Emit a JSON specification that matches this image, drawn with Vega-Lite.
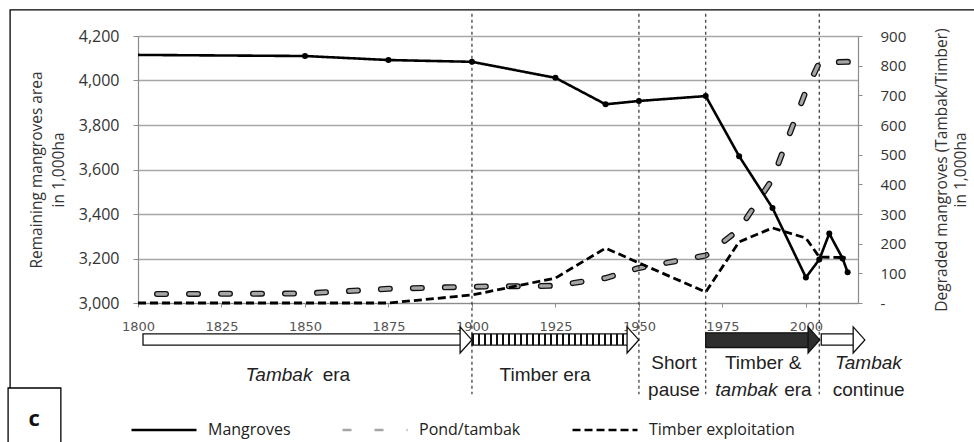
{
  "$schema": "https://vega.github.io/schema/vega-lite/v6.json",
  "width": 720,
  "height": 267,
  "autosize": {"type": "none"},
  "padding": {"left": 138, "top": 36, "right": 116, "bottom": 139},
  "background": "white",
  "config": {"view": {"stroke": null}, "font": "Open Sans"},
  "datasets": {
    "mangroves": [
      {"year": 1800, "area": 4115, "series": "Mangroves"},
      {"year": 1850, "area": 4110, "series": "Mangroves"},
      {"year": 1875, "area": 4092, "series": "Mangroves"},
      {"year": 1900, "area": 4084, "series": "Mangroves"},
      {"year": 1925, "area": 4012, "series": "Mangroves"},
      {"year": 1940, "area": 3893, "series": "Mangroves"},
      {"year": 1950, "area": 3908, "series": "Mangroves"},
      {"year": 1970, "area": 3930, "series": "Mangroves"},
      {"year": 1980, "area": 3660, "series": "Mangroves"},
      {"year": 1990, "area": 3427, "series": "Mangroves"},
      {"year": 2000, "area": 3115, "series": "Mangroves"},
      {"year": 2004, "area": 3195, "series": "Mangroves"},
      {"year": 2007, "area": 3312, "series": "Mangroves"},
      {"year": 2011, "area": 3200, "series": "Mangroves"},
      {"year": 2012.5, "area": 3138, "series": "Mangroves"}
    ],
    "degraded": [
      {"year": 1800, "value": 30, "series": "Pond/tambak"},
      {"year": 1850, "value": 32, "series": "Pond/tambak"},
      {"year": 1875, "value": 48, "series": "Pond/tambak"},
      {"year": 1900, "value": 55, "series": "Pond/tambak"},
      {"year": 1925, "value": 58, "series": "Pond/tambak"},
      {"year": 1940, "value": 84, "series": "Pond/tambak"},
      {"year": 1950, "value": 118, "series": "Pond/tambak"},
      {"year": 1970, "value": 160, "series": "Pond/tambak"},
      {"year": 1980, "value": 248, "series": "Pond/tambak"},
      {"year": 1990, "value": 418, "series": "Pond/tambak"},
      {"year": 2000, "value": 715, "series": "Pond/tambak"},
      {"year": 2004, "value": 810, "series": "Pond/tambak"},
      {"year": 2013, "value": 813, "series": "Pond/tambak"},
      {"year": 1800, "value": 0, "series": "Timber exploitation"},
      {"year": 1850, "value": 0, "series": "Timber exploitation"},
      {"year": 1875, "value": 0, "series": "Timber exploitation"},
      {"year": 1900, "value": 27, "series": "Timber exploitation"},
      {"year": 1925, "value": 84, "series": "Timber exploitation"},
      {"year": 1940, "value": 185, "series": "Timber exploitation"},
      {"year": 1950, "value": 135, "series": "Timber exploitation"},
      {"year": 1970, "value": 37, "series": "Timber exploitation"},
      {"year": 1980, "value": 206, "series": "Timber exploitation"},
      {"year": 1990, "value": 253, "series": "Timber exploitation"},
      {"year": 2000, "value": 219, "series": "Timber exploitation"},
      {"year": 2004, "value": 155, "series": "Timber exploitation"},
      {"year": 2012, "value": 153, "series": "Timber exploitation"}
    ],
    "periods": [{"year": 1900}, {"year": 1950}, {"year": 1970}, {"year": 2004}],
    "arrows": [
      {"era": "Tambak era", "start": 1801.5, "end": 1900},
      {"era": "Timber era", "start": 1900, "end": 1950},
      {"era": "Timber & tambak era", "start": 1970, "end": 2004.2},
      {"era": "Tambak continue", "start": 2004.6, "end": 2017.7}
    ],
    "labels": [
      {"text": "Tambak", "year": 1842.2, "line": "single"},
      {"text": "era", "year": 1859.4, "line": "single"},
      {"text": "Timber era", "year": 1921.9, "line": "single"},
      {"text": "Short", "year": 1960.5, "line": "top"},
      {"text": "pause", "year": 1960.5, "line": "bottom"},
      {"text": "Timber &", "year": 1987.2, "line": "top"},
      {"text": "tambak", "year": 1982.2, "line": "bottom"},
      {"text": "era", "year": 1997.6, "line": "bottom"},
      {"text": "Tambak", "year": 2018.7, "line": "top"},
      {"text": "continue", "year": 2018.8, "line": "bottom"}
    ]
  },
  "layer": [
    {
      "data": {"name": "degraded"},
      "encoding": {
        "x": {
          "field": "year", "type": "quantitative",
          "scale": {"domain": [1800, 2015.6], "nice": false, "zero": false},
          "axis": {"title": null, "values": [1800, 1825, 1850, 1875, 1900, 1925, 1950, 1975, 2000], "format": "d", "grid": false, "domainColor": "#8c8c8c", "domainWidth": 1.2, "tickColor": "#8c8c8c", "tickSize": 4, "labelPadding": 13, "labelFont": "DejaVu Sans", "labelFontSize": 13, "labelColor": "#555555", "labelFlush": false}
        },
        "y": {
          "field": "value", "type": "quantitative",
          "scale": {"domain": [0, 900], "nice": false},
          "axis": {"orient": "right", "values": [0, 100, 200, 300, 400, 500, 600, 700, 800, 900], "grid": false, "labelExpr": "datum.value == 0 ? '-' : format(datum.value, 'd')", "domainColor": "#8c8c8c", "domainWidth": 1.2, "tickColor": "#8c8c8c", "tickSize": 4, "labelPadding": 18, "labelFont": "Open Sans", "labelFontSize": 15, "labelColor": "#333333", "title": ["Degraded mangroves (Tambak/Timber)", "in 1,000ha"], "titleAngle": 270, "titleFont": "Open Sans", "titleFontSize": 15.5, "titleFontWeight": "normal", "titleColor": "#333333", "titleLineHeight": 19, "titlePadding": 25}
        }
      },
      "layer": [
        {
          "transform": [{"filter": "datum.series == 'Pond/tambak'"}],
          "mark": {"type": "line", "stroke": "#111111", "strokeWidth": 6, "strokeCap": "round", "strokeDash": [9, 23], "strokeDashOffset": 13}
        },
        {
          "transform": [{"filter": "datum.series == 'Pond/tambak'"}],
          "mark": {"type": "line", "strokeWidth": 3.4, "strokeCap": "round", "strokeDashOffset": 13},
          "encoding": {
            "color": {"field": "series", "type": "nominal", "scale": {"domain": ["Mangroves", "Pond/tambak", "Timber exploitation"], "range": ["#000000", "#a6a6a6", "#000000"]}, "legend": {"title": null, "orient": "none", "legendX": -8, "legendY": 360, "direction": "horizontal", "symbolType": "stroke", "symbolSize": 4225, "symbolStrokeWidth": 2.6, "labelFont": "Open Sans", "labelFontSize": 16, "labelColor": "#222222", "labelOffset": 10, "columnPadding": 46}},
            "strokeDash": {"field": "series", "type": "nominal", "scale": {"domain": ["Mangroves", "Pond/tambak", "Timber exploitation"], "range": [[1, 0], [9, 23], [8, 4]]}, "legend": {"title": null, "orient": "none", "legendX": -8, "legendY": 360, "direction": "horizontal", "symbolType": "stroke", "symbolSize": 4225, "symbolStrokeWidth": 2.6, "labelFont": "Open Sans", "labelFontSize": 16, "labelColor": "#222222", "labelOffset": 10, "columnPadding": 46}}
          }
        },
        {
          "transform": [{"filter": "datum.series == 'Timber exploitation'"}],
          "mark": {"type": "line", "strokeWidth": 2.8},
          "encoding": {
            "color": {"field": "series", "type": "nominal"},
            "strokeDash": {"field": "series", "type": "nominal"}
          }
        }
      ]
    },
    {
      "layer": [
        {
          "data": {"values": [{}]},
          "mark": {"type": "rect", "filled": false, "stroke": "#000000", "strokeWidth": 1.3, "clip": false},
          "encoding": {
            "x": {"datum": 1761.7, "type": "quantitative"},
            "x2": {"datum": 2070},
            "y": {"datum": 4317, "type": "quantitative"},
            "y2": {"datum": 2350}
          }
        },
        {
          "data": {"name": "periods"},
          "mark": {"type": "rule", "stroke": "#333333", "strokeWidth": 1.2, "strokeDash": [3, 3], "clip": false},
          "encoding": {
            "x": {"field": "year", "type": "quantitative"},
            "y": {"datum": 4300, "type": "quantitative"},
            "y2": {"datum": 2590}
          }
        },
        {
          "data": {"name": "mangroves"},
          "mark": {"type": "line", "strokeWidth": 2.6},
          "encoding": {
            "x": {
              "field": "year", "type": "quantitative",
              "scale": {"domain": [1800, 2015.6], "nice": false, "zero": false},
              "axis": {"title": null, "values": [1800, 1825, 1850, 1875, 1900, 1925, 1950, 1975, 2000], "format": "d", "grid": false, "domainColor": "#8c8c8c", "domainWidth": 1.2, "tickColor": "#8c8c8c", "tickSize": 4, "labelPadding": 13, "labelFont": "DejaVu Sans", "labelFontSize": 13, "labelColor": "#555555", "labelFlush": false}
            },
            "y": {
              "field": "area", "type": "quantitative",
              "scale": {"domain": [3000, 4200], "nice": false, "zero": false},
              "axis": {"orient": "left", "values": [3000, 3200, 3400, 3600, 3800, 4000, 4200], "labelExpr": "format(datum.value, ',')", "grid": true, "gridColor": "#a6a6a6", "gridWidth": 1.5, "domainColor": "#8c8c8c", "domainWidth": 1.2, "tickColor": "#8c8c8c", "tickSize": 5, "labelPadding": 14, "labelFont": "Open Sans", "labelFontSize": 16, "labelColor": "#333333", "title": ["Remaining mangroves area", "in 1,000ha"], "titleFont": "Open Sans", "titleFontSize": 15.5, "titleFontWeight": "normal", "titleColor": "#333333", "titleLineHeight": 22, "titlePadding": 12}
            },
            "color": {"field": "series", "type": "nominal"},
            "strokeDash": {"field": "series", "type": "nominal"}
          }
        },
        {
          "data": {"name": "mangroves"},
          "transform": [{"filter": "datum.year > 1800"}],
          "mark": {"type": "point", "filled": true, "fill": "#000000", "size": 36, "opacity": 1},
          "encoding": {
            "x": {"field": "year", "type": "quantitative"},
            "y": {"field": "area", "type": "quantitative"}
          }
        },
        {
          "data": {"name": "arrows"},
          "transform": [{"filter": "datum.era == 'Tambak era' || datum.era == 'Tambak continue'"}],
          "mark": {"type": "rect", "fill": "#ffffff", "stroke": "#111111", "strokeWidth": 1.3, "x2Offset": -11, "clip": false},
          "encoding": {
            "x": {"field": "start", "type": "quantitative"},
            "x2": {"field": "end"},
            "y": {"datum": 2861, "type": "quantitative"},
            "y2": {"datum": 2811}
          }
        },
        {
          "data": {"name": "arrows"},
          "transform": [{"filter": "datum.era == 'Timber era'"}],
          "mark": {"type": "rect", "stroke": "#111111", "strokeWidth": 1.3, "x2Offset": -11, "clip": false,
            "fill": {"gradient": "linear", "x1": 0, "y1": 0, "x2": 1, "y2": 0, "stops": [
              {"offset": 0.000, "color": "#111"}, {"offset": 0.013, "color": "#111"}, {"offset": 0.013, "color": "#fff"}, {"offset": 0.038, "color": "#fff"},
              {"offset": 0.038, "color": "#111"}, {"offset": 0.051, "color": "#111"}, {"offset": 0.051, "color": "#fff"}, {"offset": 0.077, "color": "#fff"},
              {"offset": 0.077, "color": "#111"}, {"offset": 0.090, "color": "#111"}, {"offset": 0.090, "color": "#fff"}, {"offset": 0.115, "color": "#fff"},
              {"offset": 0.115, "color": "#111"}, {"offset": 0.128, "color": "#111"}, {"offset": 0.128, "color": "#fff"}, {"offset": 0.154, "color": "#fff"},
              {"offset": 0.154, "color": "#111"}, {"offset": 0.167, "color": "#111"}, {"offset": 0.167, "color": "#fff"}, {"offset": 0.192, "color": "#fff"},
              {"offset": 0.192, "color": "#111"}, {"offset": 0.205, "color": "#111"}, {"offset": 0.205, "color": "#fff"}, {"offset": 0.231, "color": "#fff"},
              {"offset": 0.231, "color": "#111"}, {"offset": 0.244, "color": "#111"}, {"offset": 0.244, "color": "#fff"}, {"offset": 0.269, "color": "#fff"},
              {"offset": 0.269, "color": "#111"}, {"offset": 0.282, "color": "#111"}, {"offset": 0.282, "color": "#fff"}, {"offset": 0.308, "color": "#fff"},
              {"offset": 0.308, "color": "#111"}, {"offset": 0.321, "color": "#111"}, {"offset": 0.321, "color": "#fff"}, {"offset": 0.346, "color": "#fff"},
              {"offset": 0.346, "color": "#111"}, {"offset": 0.359, "color": "#111"}, {"offset": 0.359, "color": "#fff"}, {"offset": 0.385, "color": "#fff"},
              {"offset": 0.385, "color": "#111"}, {"offset": 0.398, "color": "#111"}, {"offset": 0.398, "color": "#fff"}, {"offset": 0.423, "color": "#fff"},
              {"offset": 0.423, "color": "#111"}, {"offset": 0.436, "color": "#111"}, {"offset": 0.436, "color": "#fff"}, {"offset": 0.462, "color": "#fff"},
              {"offset": 0.462, "color": "#111"}, {"offset": 0.475, "color": "#111"}, {"offset": 0.475, "color": "#fff"}, {"offset": 0.500, "color": "#fff"},
              {"offset": 0.500, "color": "#111"}, {"offset": 0.513, "color": "#111"}, {"offset": 0.513, "color": "#fff"}, {"offset": 0.538, "color": "#fff"},
              {"offset": 0.538, "color": "#111"}, {"offset": 0.551, "color": "#111"}, {"offset": 0.551, "color": "#fff"}, {"offset": 0.577, "color": "#fff"},
              {"offset": 0.577, "color": "#111"}, {"offset": 0.590, "color": "#111"}, {"offset": 0.590, "color": "#fff"}, {"offset": 0.615, "color": "#fff"},
              {"offset": 0.615, "color": "#111"}, {"offset": 0.628, "color": "#111"}, {"offset": 0.628, "color": "#fff"}, {"offset": 0.654, "color": "#fff"},
              {"offset": 0.654, "color": "#111"}, {"offset": 0.667, "color": "#111"}, {"offset": 0.667, "color": "#fff"}, {"offset": 0.692, "color": "#fff"},
              {"offset": 0.692, "color": "#111"}, {"offset": 0.705, "color": "#111"}, {"offset": 0.705, "color": "#fff"}, {"offset": 0.731, "color": "#fff"},
              {"offset": 0.731, "color": "#111"}, {"offset": 0.744, "color": "#111"}, {"offset": 0.744, "color": "#fff"}, {"offset": 0.769, "color": "#fff"},
              {"offset": 0.769, "color": "#111"}, {"offset": 0.782, "color": "#111"}, {"offset": 0.782, "color": "#fff"}, {"offset": 0.808, "color": "#fff"},
              {"offset": 0.808, "color": "#111"}, {"offset": 0.821, "color": "#111"}, {"offset": 0.821, "color": "#fff"}, {"offset": 0.846, "color": "#fff"},
              {"offset": 0.846, "color": "#111"}, {"offset": 0.859, "color": "#111"}, {"offset": 0.859, "color": "#fff"}, {"offset": 0.885, "color": "#fff"},
              {"offset": 0.885, "color": "#111"}, {"offset": 0.898, "color": "#111"}, {"offset": 0.898, "color": "#fff"}, {"offset": 0.923, "color": "#fff"},
              {"offset": 0.923, "color": "#111"}, {"offset": 0.936, "color": "#111"}, {"offset": 0.936, "color": "#fff"}, {"offset": 0.962, "color": "#fff"},
              {"offset": 0.962, "color": "#111"}, {"offset": 0.975, "color": "#111"}, {"offset": 0.975, "color": "#fff"}, {"offset": 1.000, "color": "#fff"}
            ]}},
          "encoding": {
            "x": {"field": "start", "type": "quantitative"},
            "x2": {"field": "end"},
            "y": {"datum": 2861, "type": "quantitative"},
            "y2": {"datum": 2811}
          }
        },
        {
          "data": {"name": "arrows"},
          "transform": [{"filter": "datum.era == 'Timber & tambak era'"}],
          "mark": {"type": "rect", "fill": "#2e2e2e", "stroke": "#111111", "strokeWidth": 1.3, "x2Offset": -11, "clip": false},
          "encoding": {
            "x": {"field": "start", "type": "quantitative"},
            "x2": {"field": "end"},
            "y": {"datum": 2866, "type": "quantitative"},
            "y2": {"datum": 2800}
          }
        },
        {
          "data": {"name": "arrows"},
          "transform": [{"filter": "datum.era != 'Timber & tambak era'"}],
          "mark": {"type": "point", "shape": "M-0.45,-1L0.45,0L-0.45,1Z", "size": 676, "filled": true, "fill": "#ffffff", "stroke": "#111111", "strokeWidth": 1.3, "opacity": 1, "xOffset": -6, "clip": false},
          "encoding": {
            "x": {"field": "end", "type": "quantitative"},
            "y": {"datum": 2834, "type": "quantitative"}
          }
        },
        {
          "data": {"name": "arrows"},
          "transform": [{"filter": "datum.era == 'Timber & tambak era'"}],
          "mark": {"type": "point", "shape": "M-0.45,-1L0.45,0L-0.45,1Z", "size": 676, "filled": true, "fill": "#2e2e2e", "stroke": "#111111", "strokeWidth": 1.3, "opacity": 1, "xOffset": -6, "clip": false},
          "encoding": {
            "x": {"field": "end", "type": "quantitative"},
            "y": {"datum": 2834, "type": "quantitative"}
          }
        },
        {
          "data": {"name": "labels"},
          "transform": [{"filter": "datum.line == 'single' && lower(datum.text) != 'tambak'"}],
          "mark": {"type": "text", "font": "Liberation Sans", "fontSize": 19, "color": "#222222", "baseline": "middle", "align": "center", "clip": false},
          "encoding": {"x": {"field": "year", "type": "quantitative"}, "y": {"datum": 2676, "type": "quantitative"}, "text": {"field": "text"}}
        },
        {
          "data": {"name": "labels"},
          "transform": [{"filter": "datum.line == 'single' && lower(datum.text) == 'tambak'"}],
          "mark": {"type": "text", "font": "Liberation Sans", "fontSize": 19, "fontStyle": "italic", "color": "#222222", "baseline": "middle", "align": "center", "clip": false},
          "encoding": {"x": {"field": "year", "type": "quantitative"}, "y": {"datum": 2676, "type": "quantitative"}, "text": {"field": "text"}}
        },
        {
          "data": {"name": "labels"},
          "transform": [{"filter": "datum.line == 'top' && lower(datum.text) != 'tambak'"}],
          "mark": {"type": "text", "font": "Liberation Sans", "fontSize": 19, "color": "#222222", "baseline": "middle", "align": "center", "clip": false},
          "encoding": {"x": {"field": "year", "type": "quantitative"}, "y": {"datum": 2730, "type": "quantitative"}, "text": {"field": "text"}}
        },
        {
          "data": {"name": "labels"},
          "transform": [{"filter": "datum.line == 'top' && lower(datum.text) == 'tambak'"}],
          "mark": {"type": "text", "font": "Liberation Sans", "fontSize": 19, "fontStyle": "italic", "color": "#222222", "baseline": "middle", "align": "center", "clip": false},
          "encoding": {"x": {"field": "year", "type": "quantitative"}, "y": {"datum": 2730, "type": "quantitative"}, "text": {"field": "text"}}
        },
        {
          "data": {"name": "labels"},
          "transform": [{"filter": "datum.line == 'bottom' && lower(datum.text) != 'tambak'"}],
          "mark": {"type": "text", "font": "Liberation Sans", "fontSize": 19, "color": "#222222", "baseline": "middle", "align": "center", "clip": false},
          "encoding": {"x": {"field": "year", "type": "quantitative"}, "y": {"datum": 2609, "type": "quantitative"}, "text": {"field": "text"}}
        },
        {
          "data": {"name": "labels"},
          "transform": [{"filter": "datum.line == 'bottom' && lower(datum.text) == 'tambak'"}],
          "mark": {"type": "text", "font": "Liberation Sans", "fontSize": 19, "fontStyle": "italic", "color": "#222222", "baseline": "middle", "align": "center", "clip": false},
          "encoding": {"x": {"field": "year", "type": "quantitative"}, "y": {"datum": 2609, "type": "quantitative"}, "text": {"field": "text"}}
        },
        {
          "data": {"values": [{"panel": "c"}]},
          "mark": {"type": "rect", "fill": "#ffffff", "stroke": "#000000", "strokeWidth": 1.3, "clip": false},
          "encoding": {
            "x": {"datum": 1761.1, "type": "quantitative"},
            "x2": {"datum": 1776.9},
            "y": {"datum": 2618, "type": "quantitative"},
            "y2": {"datum": 2350}
          }
        },
        {
          "data": {"values": [{"panel": "c"}]},
          "mark": {"type": "text", "font": "Open Sans", "fontSize": 22, "fontWeight": "bold", "color": "#111111", "baseline": "middle", "align": "center", "clip": false},
          "encoding": {
            "x": {"datum": 1768.9, "type": "quantitative"},
            "y": {"datum": 2480, "type": "quantitative"},
            "text": {"field": "panel"}
          }
        }
      ]
    }
  ],
  "resolve": {"scale": {"y": "independent"}}
}
